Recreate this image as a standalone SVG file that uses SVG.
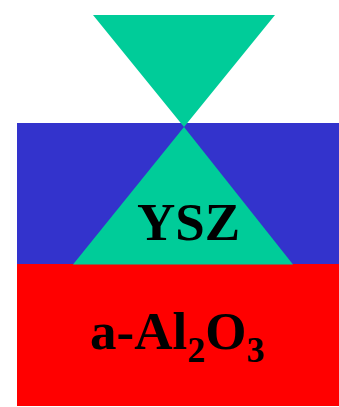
<svg xmlns="http://www.w3.org/2000/svg" width="339" height="407" viewBox="0 0 339 407">
<style>
.lbl{font-family:"Liberation Serif","Times New Roman",serif;font-weight:bold;fill:#000}
.ysz{fill:#00CC99}
</style>
<rect width="339" height="407" fill="#fff"/>
<g id="substrate">
<rect x="17" y="264" width="322" height="142" fill="#FF0000"/>
<text class="lbl" x="90" y="349" font-size="53">a-Al<tspan font-size="36" dy="13">2</tspan><tspan dy="-13">O</tspan><tspan font-size="36" dy="13">3</tspan></text>
</g>
<g id="layer">
<rect x="17" y="123" width="322" height="141" fill="#3333CC"/>
</g>
<g id="ysz-top">
<polygon class="ysz" points="93,15 275,15 184,127"/>
</g>
<g id="ysz-bottom">
<polygon class="ysz" points="184,127 73,264.5 293,264.5"/>
<text class="lbl" x="137" y="240" font-size="53">YSZ</text>
</g>
<g id="connectors"/>
</svg>
